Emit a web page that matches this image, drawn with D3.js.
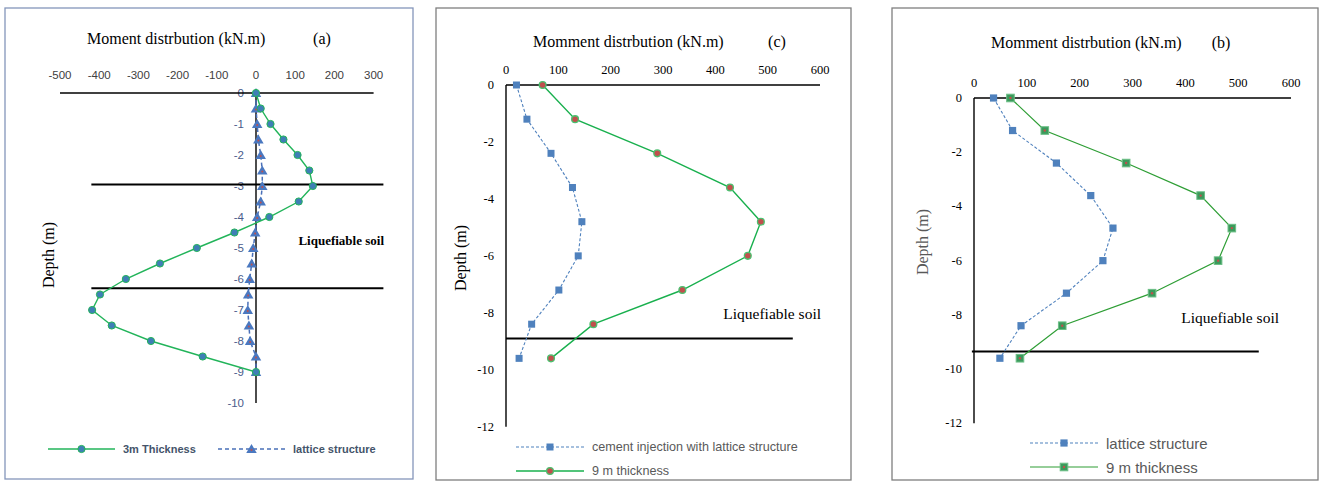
<!DOCTYPE html>
<html>
<head>
<meta charset="utf-8">
<script src="https://cdn.jsdelivr.net/npm/d3@7"></script>
<style>
  body { margin: 0; background: #fff; }
  svg { display: block; }
</style>
</head>
<body>
<div id="chart"></div>
<script>
// ---- data ----
// panel (a): depth every 0.5 m
const depthsA = [0, -0.5, -1, -1.5, -2, -2.5, -3, -3.5, -4, -4.5, -5, -5.5, -6, -6.5, -7, -7.5, -8, -8.5, -9];
const thick3mA = [0, 12, 37, 70, 106, 136, 145, 109, 34, -55, -151, -245, -332, -398, -418, -368, -268, -136, 0];
const latticeA = [0, 0, 3, 6, 12, 16, 16, 12, 3, -2, -7, -11, -16, -20, -21, -18, -15, 0, 0];
const xTicksA = [-500, -400, -300, -200, -100, 0, 100, 200, 300];
const yTicksA = [0, -1, -2, -3, -4, -5, -6, -7, -8, -9, -10];
const soilLinesA = [-2.95, -6.3];

// panels (b) and (c): depth every 1.2 m
const depthsBC = [0, -1.2, -2.4, -3.6, -4.8, -6, -7.2, -8.4, -9.6];
const cementLatticeC = [20, 40, 86, 127, 145, 138, 101, 49, 25];
const thick9mC = [70, 132, 289, 428, 487, 462, 337, 167, 86];
const latticeB = [37, 73, 156, 221, 263, 244, 175, 89, 49];
const thick9mB = [69, 134, 288, 429, 488, 462, 337, 167, 87];
const xTicksBC = [0, 100, 200, 300, 400, 500, 600];
const yTicksBC = [0, -2, -4, -6, -8, -10, -12];
const soilLineC = [-8.9];
const soilLineB = [-9.35];

const W = 1326, H = 481;
const serif = "'Liberation Serif', 'Times New Roman', serif";
const sans = "'Liberation Sans', Arial, sans-serif";

const svg = d3.select("#chart").append("svg")
    .attr("width", W).attr("height", H);

// draws one panel frame, axes and labels, returns scales
function panel(cfg) {
    const g = svg.append("g");
    g.append("rect")
        .attr("x", cfg.box[0]).attr("y", cfg.box[1])
        .attr("width", cfg.box[2] - cfg.box[0]).attr("height", cfg.box[3] - cfg.box[1])
        .attr("fill", "#fff").attr("stroke", cfg.boxColor).attr("stroke-width", 1.3);

    const x = d3.scaleLinear().domain(cfg.xDomain).range(cfg.xRange);
    const y = d3.scaleLinear().domain(cfg.yDomain).range(cfg.yRange);

    // x tick labels (no tick marks)
    g.selectAll(".xt").data(cfg.xTicks).join("text")
        .attr("x", d => x(d)).attr("y", cfg.xLabelY)
        .attr("text-anchor", "middle").attr("dominant-baseline", "central")
        .style("font-family", cfg.tickFont).style("font-size", cfg.tickSize)
        .attr("fill", cfg.xTickColor)
        .text(d => d);

    // y tick labels
    g.selectAll(".yt").data(cfg.yTicks).join("text")
        .attr("x", cfg.yLabelX).attr("y", d => y(d))
        .attr("text-anchor", "end").attr("dominant-baseline", "central")
        .style("font-family", cfg.tickFont).style("font-size", cfg.tickSize)
        .attr("fill", cfg.yTickColor)
        .text(d => d);

    // axis lines
    g.append("line")
        .attr("x1", x(cfg.xDomain[0])).attr("x2", x(cfg.xDomain[1]))
        .attr("y1", y(0)).attr("y2", y(0))
        .attr("stroke", "#000").attr("stroke-width", 1.4);
    g.append("line")
        .attr("x1", x(0)).attr("x2", x(0))
        .attr("y1", y(0)).attr("y2", y(cfg.yDomain[1]))
        .attr("stroke", "#000").attr("stroke-width", 1.4);

    // titles
    g.append("text")
        .attr("x", cfg.titleX).attr("y", cfg.titleY)
        .style("font-family", serif).style("font-size", "16px").attr("fill", "#000")
        .text(cfg.title);
    g.append("text")
        .attr("x", cfg.tagX).attr("y", cfg.titleY).attr("text-anchor", "middle")
        .style("font-family", serif).style("font-size", "16px").attr("fill", "#000")
        .text(cfg.tag);
    g.append("text")
        .attr("transform", `translate(${cfg.depthX},${cfg.depthY}) rotate(-90)`)
        .attr("text-anchor", "middle").attr("dominant-baseline", "central")
        .style("font-family", serif).style("font-size", "16px").attr("fill", cfg.depthColor)
        .text("Depth (m)");

    // soil boundary lines
    g.selectAll(".soil").data(cfg.soilLines).join("line")
        .attr("x1", x(cfg.soilExtent[0])).attr("x2", x(cfg.soilExtent[1]))
        .attr("y1", d => y(d)).attr("y2", d => y(d))
        .attr("stroke", "#000").attr("stroke-width", 2);

    g.append("text")
        .attr("x", cfg.soilTextX).attr("y", cfg.soilTextY).attr("text-anchor", "end")
        .style("font-family", serif).style("font-size", cfg.soilSize)
        .style("font-weight", cfg.soilWeight).attr("fill", "#000")
        .text("Liquefiable soil");

    return { g, x, y };
}

function drawLine(p, depths, vals, stroke, width, dash) {
    const pts = depths.map((d, i) => ({ depth: d, v: vals[i] }));
    const line = d3.line().x(d => p.x(d.v)).y(d => p.y(d.depth));
    p.g.append("path").datum(pts)
        .attr("d", line).attr("fill", "none")
        .attr("stroke", stroke).attr("stroke-width", width)
        .attr("stroke-dasharray", dash || null);
    return pts;
}

function marker(g, type, cx, cy, st) {
    if (type === "circle") {
        g.append("circle").attr("cx", cx).attr("cy", cy).attr("r", st.r)
            .attr("fill", st.fill).attr("stroke", st.stroke).attr("stroke-width", st.sw);
    } else if (type === "square") {
        g.append("rect").attr("x", cx - st.r).attr("y", cy - st.r)
            .attr("width", st.r * 2).attr("height", st.r * 2)
            .attr("fill", st.fill).attr("stroke", st.stroke || "none").attr("stroke-width", st.sw || 0);
    } else if (type === "triangle") {
        g.append("path").attr("transform", `translate(${cx},${cy + 1})`)
            .attr("d", d3.symbol().type(d3.symbolTriangle).size(st.size)())
            .attr("fill", st.fill);
    }
    if (st.dot) {
        g.append("circle").attr("cx", cx).attr("cy", cy + (type === "triangle" ? 1 : 0))
            .attr("r", st.dotR || 1.2).attr("fill", st.dot);
    }
}

function drawSeries(p, depths, vals, s) {
    const pts = drawLine(p, depths, vals, s.stroke, s.width, s.dash);
    pts.forEach(d => marker(p.g, s.type, p.x(d.v), p.y(d.depth), s.m));
}

function legendItem(g, x1, x2, y, s, label, font) {
    g.append("line").attr("x1", x1).attr("x2", x2).attr("y1", y).attr("y2", y)
        .attr("stroke", s.stroke).attr("stroke-width", s.width)
        .attr("stroke-dasharray", s.dash || null);
    marker(g, s.type, (x1 + x2) / 2, y, s.m);
    g.append("text").attr("x", x2 + font.gap).attr("y", y)
        .attr("dominant-baseline", "central")
        .style("font-family", sans).style("font-size", font.size)
        .style("font-weight", font.weight).attr("fill", font.color)
        .text(label);
}

// ---------------- panel (a) ----------------
const pa = panel({
    box: [5, 8, 413, 479], boxColor: "#8496BA",
    xDomain: [-500, 300], xRange: [60, 373.6],
    yDomain: [0, -10], yRange: [93, 403],
    xTicks: xTicksA, yTicks: yTicksA,
    xLabelY: 75, yLabelX: 244,
    tickFont: sans, tickSize: "11.5px", xTickColor: "#404040", yTickColor: "#4A5C8C",
    title: "Moment distrbution (kN.m)", titleX: 87, titleY: 44, tag: "(a)", tagX: 322,
    depthX: 48, depthY: 255, depthColor: "#000",
    soilLines: soilLinesA, soilExtent: [-420, 325],
    soilTextX: 384, soilTextY: 245, soilSize: "13px", soilWeight: "bold"
});
const s3m = { stroke: "#22B45A", width: 1.4, type: "circle",
    m: { r: 3.6, fill: "#3F7FB5", stroke: "#22B45A", sw: 1 } };
const sLatA = { stroke: "#4A70B8", width: 1.5, dash: "4,3", type: "triangle",
    m: { size: 48, fill: "#4A78C0", dot: "#C0504D", dotR: 1 } };
drawSeries(pa, depthsA, latticeA, sLatA);
drawSeries(pa, depthsA, thick3mA, s3m);
const fontA = { size: "11px", weight: "bold", color: "#44546A", gap: 8 };
legendItem(pa.g, 48, 115, 449, s3m, "3m Thickness", fontA);
legendItem(pa.g, 218, 285, 449, sLatA, "lattice structure", fontA);

// ---------------- panel (c) ----------------
const pc = panel({
    box: [436, 8, 851, 480], boxColor: "#7F7F7F",
    xDomain: [0, 600], xRange: [506, 820],
    yDomain: [0, -12], yRange: [85, 426.7],
    xTicks: xTicksBC, yTicks: yTicksBC,
    xLabelY: 70, yLabelX: 494,
    tickFont: serif, tickSize: "12.5px", xTickColor: "#000", yTickColor: "#000",
    title: "Momment distrbution (kN.m)", titleX: 533, titleY: 47, tag: "(c)", tagX: 777,
    depthX: 460, depthY: 258, depthColor: "#000",
    soilLines: soilLineC, soilExtent: [0, 548],
    soilTextX: 821, soilTextY: 319, soilSize: "15.5px", soilWeight: "normal"
});
const sCement = { stroke: "#4F81BD", width: 1.1, dash: "3,2", type: "square",
    m: { r: 3.5, fill: "#4F81BD" } };
const s9mC = { stroke: "#19B04E", width: 1.4, type: "circle",
    m: { r: 3.4, fill: "#C0504D", stroke: "#4CC070", sw: 1.3 } };
drawSeries(pc, depthsBC, cementLatticeC, sCement);
drawSeries(pc, depthsBC, thick9mC, s9mC);
const fontC = { size: "12.6px", weight: "normal", color: "#595959", gap: 8 };
legendItem(pc.g, 516, 584, 447, sCement, "cement injection with lattice structure", fontC);
legendItem(pc.g, 516, 584, 471, s9mC, "9 m thickness", fontC);

// ---------------- panel (b) ----------------
const pb = panel({
    box: [892, 8, 1318, 480], boxColor: "#7F7F7F",
    xDomain: [0, 600], xRange: [974, 1291],
    yDomain: [0, -12], yRange: [98, 423.3],
    xTicks: xTicksBC, yTicks: yTicksBC,
    xLabelY: 83, yLabelX: 962,
    tickFont: serif, tickSize: "12.5px", xTickColor: "#000", yTickColor: "#000",
    title: "Momment distrbution (kN.m)", titleX: 991, titleY: 48, tag: "(b)", tagX: 1221,
    depthX: 922, depthY: 242, depthColor: "#595959",
    soilLines: soilLineB, soilExtent: [-4, 539],
    soilTextX: 1279, soilTextY: 323, soilSize: "15.5px", soilWeight: "normal"
});
const sLatB = { stroke: "#4F81BD", width: 1.1, dash: "3,2", type: "square",
    m: { r: 3.6, fill: "#4F81BD" } };
const s9mB = { stroke: "#2E9E35", width: 1.2, type: "square",
    m: { r: 3.8, fill: "#3B9A5C", stroke: "#6CBF86", sw: 1, dot: "#C0504D", dotR: 1.2 } };
drawSeries(pb, depthsBC, latticeB, sLatB);
drawSeries(pb, depthsBC, thick9mB, s9mB);
const fontB = { size: "15px", weight: "normal", color: "#595959", gap: 8 };
legendItem(pb.g, 1030, 1098, 443, sLatB, "lattice structure", fontB);
legendItem(pb.g, 1030, 1098, 467, s9mB, "9 m thickness", fontB);
</script>
</body>
</html>
